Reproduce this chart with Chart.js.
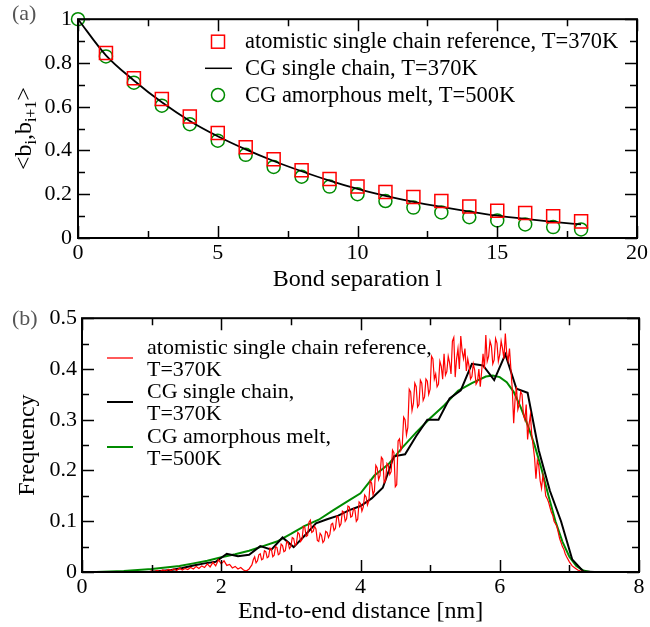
<!DOCTYPE html>
<html>
<head>
<meta charset="utf-8">
<script src="https://cdn.jsdelivr.net/npm/chart.js@4.4.1/dist/chart.umd.min.js"></script>
<style>
  body { margin: 0; background: #fff; }
  .box { position: absolute; left: 0; width: 650px; }
  #boxA { top: 0; height: 300px; }
  #boxB { top: 300px; height: 327px; }
</style>
</head>
<body>
<div class="box" id="boxA"><canvas id="chartA"></canvas></div>
<div class="box" id="boxB"><canvas id="chartB"></canvas></div>
<script>
// ---- panel (a): bond vector correlation ----
const bondSep = [0, 1, 2, 3, 4, 5, 6, 7, 8, 9, 10, 11, 12, 13, 14, 15, 16, 17, 18];
const atomisticA = [null, 0.845, 0.73, 0.635, 0.555, 0.48, 0.415, 0.36, 0.31, 0.27, 0.235, 0.21, 0.187, 0.169, 0.144, 0.124, 0.114, 0.099, 0.076];
const cgChainA = [1.0, 0.835, 0.72, 0.62, 0.535, 0.465, 0.405, 0.352, 0.305, 0.262, 0.224, 0.192, 0.165, 0.142, 0.121, 0.102, 0.087, 0.074, 0.062];
const cgMeltA = [1.0, 0.83, 0.71, 0.605, 0.52, 0.445, 0.38, 0.325, 0.28, 0.235, 0.20, 0.169, 0.139, 0.117, 0.095, 0.08, 0.062, 0.05, 0.039];
const labelsA = ['atomistic single chain reference, T=370K', 'CG single chain, T=370K', 'CG amorphous melt, T=500K'];

// ---- panel (b): end-to-end distance distribution ----
const redX = [0, 0.4, 0.88, 0.92, 0.96, 1.00, 1.04, 1.08, 1.12, 1.16, 1.20, 1.24, 1.28, 1.32, 1.36, 1.40, 1.44, 1.48, 1.52, 1.56, 1.60, 1.64, 1.68, 1.72, 1.76, 1.80, 1.84, 1.88, 1.92, 1.96, 2.00, 2.04, 2.08, 2.12, 2.16, 2.20, 2.24, 2.28, 2.32, 2.36,
    2.40, 2.42, 2.44, 2.46, 2.48, 2.50, 2.52, 2.54, 2.56, 2.58, 2.60, 2.62, 2.64, 2.66, 2.68, 2.70, 2.72, 2.74, 2.76, 2.78,
    2.80, 2.82, 2.84, 2.86, 2.88, 2.90, 2.92, 2.94, 2.96, 2.98, 3.00, 3.02, 3.04, 3.06, 3.08, 3.10, 3.12, 3.14, 3.16, 3.18,
    3.20, 3.22, 3.24, 3.26, 3.28, 3.30, 3.32, 3.34, 3.36, 3.38, 3.40, 3.42, 3.44, 3.46, 3.48, 3.50, 3.52, 3.54, 3.56, 3.58,
    3.60, 3.62, 3.64, 3.66, 3.68, 3.70, 3.72, 3.74, 3.76, 3.78, 3.80, 3.82, 3.84, 3.86, 3.88, 3.90, 3.92, 3.94, 3.96, 3.98,
    4.00, 4.02, 4.04, 4.06, 4.08, 4.10, 4.12, 4.14, 4.16, 4.18, 4.20, 4.22, 4.24, 4.26, 4.28, 4.30, 4.32, 4.34, 4.36, 4.38,
    4.40, 4.42, 4.44, 4.46, 4.48, 4.50, 4.52, 4.54, 4.56, 4.58, 4.60, 4.62, 4.64, 4.66, 4.68, 4.70, 4.72, 4.74, 4.76, 4.78,
    4.80, 4.82, 4.84, 4.86, 4.88, 4.90, 4.92, 4.94, 4.96, 4.98, 5.00, 5.02, 5.04, 5.06, 5.08, 5.10, 5.12, 5.14, 5.16, 5.18,
    5.20, 5.22, 5.24, 5.26, 5.28, 5.30, 5.32, 5.34, 5.36, 5.38, 5.40, 5.42, 5.44, 5.46, 5.48, 5.50, 5.52, 5.54, 5.56, 5.58,
    5.60, 5.62, 5.64, 5.66, 5.68, 5.70, 5.72, 5.74, 5.76, 5.78, 5.80, 5.82, 5.84, 5.86, 5.88, 5.90, 5.92, 5.94, 5.96, 5.98,
    6.00, 6.02, 6.04, 6.06, 6.08, 6.10, 6.12, 6.14, 6.16, 6.18, 6.20, 6.22, 6.24, 6.26, 6.28, 6.30, 6.32, 6.34, 6.36, 6.38,
    6.40, 6.42, 6.44, 6.46, 6.48, 6.50, 6.52, 6.54, 6.56, 6.58, 6.60, 6.62, 6.64, 6.66, 6.68, 6.70, 6.72, 6.74, 6.76, 6.78,
    6.80, 6.82, 6.84, 6.86, 6.88, 6.90, 6.92, 6.94, 6.96, 7.00, 7.04, 7.08, 7.12, 7.16, 7.20, 7.24, 8.0];
const redY = [0, 0, 0, 0.001, 0.000, 0.002, 0.001, 0.003, 0.001, 0.004, 0.002, 0.005, 0.003, 0.006, 0.003, 0.008, 0.004, 0.007, 0.005, 0.009, 0.006, 0.011, 0.007, 0.012, 0.009, 0.016, 0.010, 0.019, 0.012, 0.024, 0.016, 0.022, 0.013, 0.015, 0.008, 0.011, 0.006, 0.009, 0.004, 0.002,
    0.006, 0.010, 0.014, 0.024, 0.030, 0.018, 0.022, 0.034, 0.036, 0.024, 0.026, 0.042, 0.040, 0.028, 0.030, 0.047, 0.045, 0.030, 0.033, 0.050,
    0.048, 0.034, 0.036, 0.055, 0.052, 0.040, 0.042, 0.060, 0.058, 0.046, 0.050, 0.068, 0.066, 0.052, 0.056, 0.078, 0.075, 0.060, 0.064, 0.090,
    0.088, 0.070, 0.072, 0.098, 0.102, 0.078, 0.080, 0.090, 0.085, 0.062, 0.060, 0.076, 0.072, 0.058, 0.062, 0.080, 0.078, 0.068, 0.074, 0.094,
    0.096, 0.082, 0.086, 0.110, 0.108, 0.090, 0.095, 0.120, 0.118, 0.100, 0.105, 0.130, 0.128, 0.108, 0.110, 0.125, 0.122, 0.100, 0.104, 0.138,
    0.135, 0.120, 0.128, 0.152, 0.148, 0.132, 0.140, 0.180, 0.175, 0.152, 0.160, 0.210, 0.205, 0.182, 0.190, 0.226, 0.222, 0.176, 0.180, 0.214,
    0.210, 0.192, 0.198, 0.240, 0.235, 0.168, 0.172, 0.258, 0.262, 0.240, 0.250, 0.305, 0.300, 0.270, 0.285, 0.360, 0.355, 0.318, 0.332, 0.372,
    0.365, 0.325, 0.330, 0.378, 0.372, 0.338, 0.345, 0.380, 0.376, 0.350, 0.360, 0.425, 0.420, 0.380, 0.390, 0.365, 0.370, 0.415, 0.405, 0.380,
    0.430, 0.388, 0.395, 0.425, 0.412, 0.390, 0.455, 0.462, 0.384, 0.420, 0.440, 0.400, 0.465, 0.435, 0.420, 0.440, 0.396, 0.420, 0.405, 0.380,
    0.385, 0.410, 0.398, 0.370, 0.375, 0.400, 0.365, 0.395, 0.430, 0.400, 0.467, 0.415, 0.425, 0.455, 0.445, 0.410, 0.418, 0.460, 0.451, 0.415,
    0.428, 0.455, 0.440, 0.420, 0.470, 0.430, 0.416, 0.440, 0.400, 0.360, 0.293, 0.340, 0.365, 0.320, 0.330, 0.355, 0.350, 0.310, 0.300, 0.330,
    0.261, 0.290, 0.310, 0.270, 0.248, 0.225, 0.184, 0.220, 0.210, 0.180, 0.165, 0.190, 0.175, 0.150, 0.145, 0.138, 0.128, 0.118, 0.112, 0.100,
    0.095, 0.090, 0.078, 0.066, 0.058, 0.050, 0.045, 0.036, 0.030, 0.020, 0.012, 0.008, 0.004, 0.002, 0.001, 0, 0];
const blackX = [0, 0.96, 1.12, 1.28, 1.44, 1.60, 1.76, 1.92, 2.08, 2.24, 2.40, 2.56, 2.72, 2.88, 3.04, 3.20, 3.36, 3.52, 3.68, 3.84, 4.00, 4.16, 4.32, 4.48, 4.64, 4.80, 4.96, 5.12, 5.28, 5.44, 5.60, 5.76, 5.92, 6.08, 6.24, 6.40, 6.56, 6.72, 6.88, 7.04, 7.20, 7.36, 8.0];
const blackY = [0, 0, 0.002, 0.004, 0.008, 0.013, 0.017, 0.020, 0.036, 0.031, 0.034, 0.051, 0.044, 0.068, 0.049, 0.072, 0.096, 0.104, 0.111, 0.122, 0.130, 0.145, 0.166, 0.228, 0.232, 0.268, 0.300, 0.300, 0.342, 0.358, 0.410, 0.407, 0.378, 0.429, 0.361, 0.353, 0.240, 0.160, 0.100, 0.025, 0.001, 0, 0];
const greenX = [0, 0.2, 0.4, 0.6, 0.8, 1.0, 1.2, 1.4, 1.6, 1.8, 2.0, 2.2, 2.4, 2.6, 2.8, 3.0, 3.2, 3.4, 3.6, 3.8, 4.0, 4.2, 4.4, 4.6, 4.8, 5.0, 5.2, 5.4, 5.6, 5.8, 5.9, 6.0, 6.1, 6.2, 6.3, 6.4, 6.5, 6.6, 6.7, 6.8, 6.9, 7.0, 7.1, 7.2, 7.3, 8.0];
const greenY = [0, 0, 0.001, 0.002, 0.004, 0.006, 0.009, 0.012, 0.017, 0.022, 0.029, 0.035, 0.042, 0.051, 0.060, 0.075, 0.091, 0.103, 0.121, 0.138, 0.155, 0.19, 0.212, 0.245, 0.275, 0.303, 0.328, 0.357, 0.372, 0.385, 0.387, 0.384, 0.374, 0.355, 0.325, 0.29, 0.25, 0.203, 0.15, 0.10, 0.06, 0.03, 0.012, 0.003, 0, 0];
const labelsB = [['atomistic single chain reference,', 'T=370K'], ['CG single chain,', 'T=370K'], ['CG amorphous melt,', 'T=500K']];

const RED = '#ff0000', BLACK = '#000000', GREEN = '#008b00';
const SERIF = '"Liberation Serif", "Times New Roman", serif';

Chart.defaults.font.family = SERIF;
Chart.defaults.color = '#000';

function pts(xs, ys) {
    return xs.map((x, i) => ({ x: x, y: ys[i] }));
}

// inward ticks on all four sides + box frame
const frameTicks = {
    id: 'frameTicks',
    afterDatasetsDraw(chart, args, opts) {
        const { ctx, chartArea: a, scales: { x, y } } = chart;
        ctx.save();
        ctx.strokeStyle = '#000';
        ctx.lineWidth = 1.5;
        ctx.beginPath();
        const isMajor = (v, step) => Math.abs(v / step - Math.round(v / step)) < 1e-6;
        for (let v = x.min; v <= x.max + 1e-9; v += opts.xMinor) {
            const px = Math.round(x.getPixelForValue(v)) + 0.5;
            const len = isMajor(v, opts.xMajor) ? 12 : 7;
            ctx.moveTo(px, a.bottom); ctx.lineTo(px, a.bottom - len);
            ctx.moveTo(px, a.top); ctx.lineTo(px, a.top + len);
        }
        for (let v = y.min; v <= y.max + 1e-9; v += opts.yMinor) {
            const py = Math.round(y.getPixelForValue(v)) + 0.5;
            const len = isMajor(v, opts.yMajor) ? 12 : 7;
            ctx.moveTo(a.left, py); ctx.lineTo(a.left + len, py);
            ctx.moveTo(a.right, py); ctx.lineTo(a.right - len, py);
        }
        ctx.stroke();
        ctx.lineWidth = 2;
        ctx.strokeRect(a.left, a.top, a.right - a.left, a.bottom - a.top);
        ctx.restore();
    }
};

function axisOpts(min, max, step, fixedSize, isX, pad, title) {
    return {
        type: 'linear',
        min: min,
        max: max,
        grid: { display: false, drawTicks: false },
        border: { display: false },
        ticks: {
            stepSize: step,
            font: { family: SERIF, size: 22 },
            color: '#000',
            padding: pad,
            maxRotation: 0,
            callback: v => String(Number(v.toFixed(2)))
        },
        title: title,
        afterFit: s => { if (isX) s.height = fixedSize; else s.width = fixedSize; }
    };
}

// (a)
const legendA = {
    id: 'legendA',
    afterDraw(chart) {
        const ctx = chart.ctx;
        ctx.save();
        ctx.font = '22.5px ' + SERIF;
        ctx.fillStyle = '#000';
        const rows = [41.7, 68.3, 95];
        ctx.lineWidth = 1.5;
        ctx.strokeStyle = RED;
        ctx.strokeRect(218 - 6.5, rows[0] - 6.5, 13, 13);
        ctx.strokeStyle = BLACK;
        ctx.beginPath(); ctx.moveTo(205, rows[1]); ctx.lineTo(232, rows[1]); ctx.stroke();
        ctx.strokeStyle = GREEN;
        ctx.beginPath(); ctx.arc(218, rows[2], 6.5, 0, Math.PI * 2); ctx.stroke();
        labelsA.forEach((t, i) => ctx.fillText(t, 245, rows[i] + 6.5));

        // panel letter
        ctx.fillStyle = '#555';
        ctx.font = '22px ' + SERIF;
        ctx.fillText('(a)', 12, 20);

        // y title <b_i,b_i+1> with subscripts
        const big = '24px ' + SERIF, small = '16px ' + SERIF;
        const parts = [['<b', big, 0], ['i', small, 5], [',', big, 0], ['b', big, 0], ['i+1', small, 5], ['>', big, 0]];
        let total = 0;
        parts.forEach(p => { ctx.font = p[1]; total += ctx.measureText(p[0]).width; });
        ctx.translate(31, (chart.chartArea.top + chart.chartArea.bottom) / 2);
        ctx.rotate(-Math.PI / 2);
        ctx.fillStyle = '#000';
        let cx = -total / 2;
        parts.forEach(p => {
            ctx.font = p[1];
            ctx.fillText(p[0], cx, p[2]);
            cx += ctx.measureText(p[0]).width;
        });
        ctx.restore();
    }
};

new Chart(document.getElementById('chartA'), {
    type: 'scatter',
    data: {
        datasets: [
            {
                label: labelsA[0],
                data: pts(bondSep, atomisticA),
                pointStyle: 'rect',
                pointRadius: 9.2,
                pointBorderColor: RED,
                pointBackgroundColor: 'rgba(0,0,0,0)',
                pointBorderWidth: 1.5,
                showLine: false,
                clip: false
            },
            {
                label: labelsA[1],
                data: pts(bondSep, cgChainA),
                showLine: true,
                borderColor: BLACK,
                borderWidth: 1.8,
                pointRadius: 0,
                cubicInterpolationMode: 'monotone',
                clip: false
            },
            {
                label: labelsA[2],
                data: pts(bondSep, cgMeltA),
                pointStyle: 'circle',
                pointRadius: 6.5,
                pointBorderColor: GREEN,
                pointBackgroundColor: 'rgba(0,0,0,0)',
                pointBorderWidth: 1.5,
                showLine: false,
                clip: false
            }
        ]
    },
    options: {
        responsive: true,
        maintainAspectRatio: false,
        animation: false,
        layout: { padding: { top: 13, right: 12, left: 0, bottom: 0 } },
        plugins: {
            legend: { display: false },
            tooltip: { enabled: false },
            frameTicks: { xMajor: 5, xMinor: 2.5, yMajor: 0.2, yMinor: 0.1 }
        },
        scales: {
            x: axisOpts(0, 20, 5, 62, true, 2, {
                display: true, text: 'Bond separation l', font: { family: SERIF, size: 24 }, color: '#000',
                padding: { top: 0, bottom: 6 }
            }),
            y: axisOpts(0, 1, 0.2, 78, false, 6, { display: false })
        }
    },
    plugins: [frameTicks, legendA]
});

// (b)
const legendB = {
    id: 'legendB',
    afterDraw(chart) {
        const ctx = chart.ctx;
        ctx.save();
        const colors = [RED, BLACK, GREEN];
        const widths = [1.3, 2, 2];
        const baselines = [54, 76, 98, 120, 143, 165];
        ctx.font = '22px ' + SERIF;
        ctx.fillStyle = '#000';
        labelsB.forEach((lines, i) => {
            const b0 = baselines[i * 2];
            ctx.strokeStyle = colors[i];
            ctx.lineWidth = widths[i];
            ctx.beginPath(); ctx.moveTo(107, b0 + 4); ctx.lineTo(133, b0 + 4); ctx.stroke();
            lines.forEach((t, j) => ctx.fillText(t, 147, baselines[i * 2 + j]));
        });
        ctx.fillStyle = '#555';
        ctx.fillText('(b)', 12, 25);
        ctx.restore();
    }
};

new Chart(document.getElementById('chartB'), {
    type: 'scatter',
    data: {
        datasets: [
            {
                label: labelsB[0].join(' '),
                data: pts(redX, redY),
                showLine: true,
                borderColor: RED,
                borderWidth: 1.2,
                pointRadius: 0,
                tension: 0
            },
            {
                label: labelsB[1].join(' '),
                data: pts(blackX, blackY),
                showLine: true,
                borderColor: BLACK,
                borderWidth: 2,
                pointRadius: 0,
                tension: 0
            },
            {
                label: labelsB[2].join(' '),
                data: pts(greenX, greenY),
                showLine: true,
                borderColor: GREEN,
                borderWidth: 2,
                pointRadius: 0,
                tension: 0
            }
        ]
    },
    options: {
        responsive: true,
        maintainAspectRatio: false,
        animation: false,
        layout: { padding: { top: 13, right: 11, left: 0, bottom: 0 } },
        plugins: {
            legend: { display: false },
            tooltip: { enabled: false },
            frameTicks: { xMajor: 2, xMinor: 1, yMajor: 0.1, yMinor: 0.05 }
        },
        scales: {
            x: axisOpts(0, 8, 2, 55, true, 2, {
                display: true, text: 'End-to-end distance [nm]', font: { family: SERIF, size: 24 }, color: '#000',
                padding: { top: 0, bottom: 1 }
            }),
            y: axisOpts(0, 0.5, 0.1, 82, false, 5, {
                display: true, text: 'Frequency', font: { family: SERIF, size: 24 }, color: '#000',
                padding: { top: 13, bottom: 0 }
            })
        }
    },
    plugins: [frameTicks, legendB]
});
</script>
</body>
</html>
